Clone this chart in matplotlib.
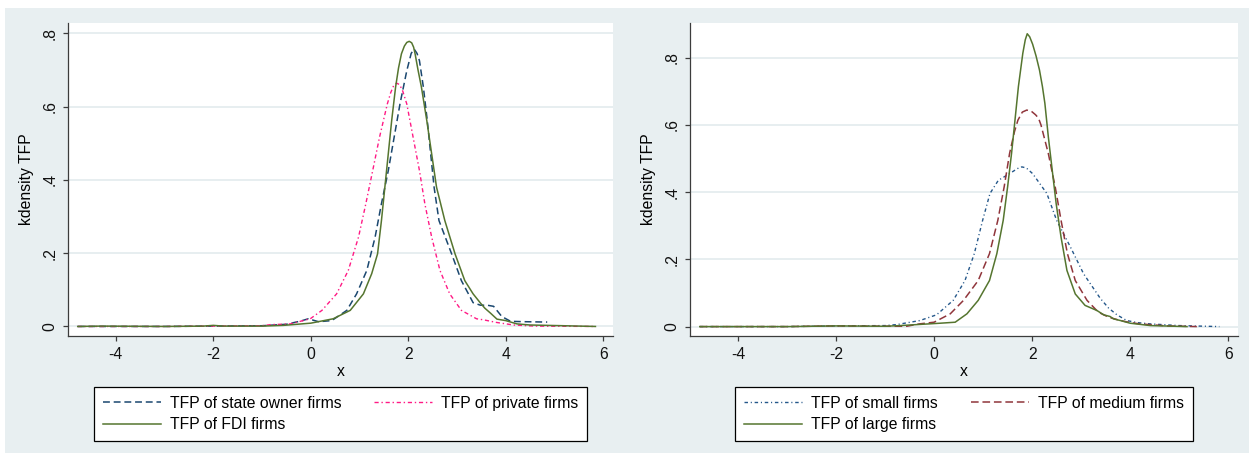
import numpy as np
import matplotlib.pyplot as plt
from matplotlib.patches import Rectangle

plt.rcParams['font.family'] = ['Liberation Sans', 'DejaVu Sans']

# ---- left panel: ownership ----
state_x = [-4.78, -3.0, -1.0, -0.5, -0.2, -0.05, 0.16, 0.43, 0.74, 0.94, 1.15, 1.32, 1.45,
           1.59, 1.71, 1.83, 1.97, 2.06, 2.12, 2.18, 2.23, 2.31, 2.39, 2.46, 2.53, 2.63,
           2.89, 3.09, 3.33, 3.48, 3.62, 3.75, 3.92, 4.1, 4.4, 4.85]
state_y = [0.0, 0.0, 0.002, 0.006, 0.015, 0.021, 0.013, 0.016, 0.044, 0.089, 0.153, 0.244, 0.335,
           0.425, 0.516, 0.607, 0.698, 0.745, 0.757, 0.745, 0.725, 0.653, 0.562, 0.471, 0.38, 0.289,
           0.198, 0.125, 0.065, 0.058, 0.058, 0.055, 0.027, 0.014, 0.013, 0.012]

private_x = [-4.78, -3.0, -2.0, -1.0, -0.83, -0.6, -0.42, -0.01, 0.23, 0.53, 0.77, 0.98, 1.13,
             1.27, 1.41, 1.57, 1.64, 1.70, 1.76, 1.82, 1.88, 1.97, 2.10, 2.23, 2.34, 2.48, 2.65,
             2.85, 3.09, 3.40, 3.55, 3.81, 4.16, 4.6, 5.84]
private_y = [0.0, 0.0, 0.001, 0.002, 0.005, 0.006, 0.007, 0.021, 0.044, 0.089, 0.153, 0.244, 0.335,
             0.425, 0.516, 0.607, 0.638, 0.657, 0.664, 0.660, 0.645, 0.607, 0.516, 0.425, 0.335, 0.244,
             0.153, 0.089, 0.044, 0.021, 0.018, 0.011, 0.004, 0.001, 0.0]

fdi_x = [-4.78, -4.3, -3.0, -2.2, -2.0, -1.8, -1.0, -0.56, 0.0, 0.46, 0.81, 1.08, 1.25, 1.37,
         1.45, 1.52, 1.59, 1.66, 1.74, 1.80, 1.86, 1.92, 1.97, 2.02, 2.07, 2.11, 2.14, 2.20,
         2.27, 2.38, 2.48, 2.58, 2.75, 2.96, 3.16, 3.33, 3.48, 3.57, 3.69, 3.82, 4.0, 4.23, 4.5,
         5.19, 5.84]
fdi_y = [0.0, 0.001, 0.0, 0.001, 0.003, 0.001, 0.001, 0.003, 0.009, 0.021, 0.044, 0.089, 0.144, 0.198,
         0.289, 0.38, 0.471, 0.562, 0.653, 0.705, 0.744, 0.765, 0.775, 0.778, 0.774, 0.762, 0.744,
         0.700, 0.653, 0.562, 0.471, 0.38, 0.289, 0.198, 0.125, 0.089, 0.064, 0.050, 0.036, 0.020,
         0.016, 0.007, 0.004, 0.002, 0.0]

# ---- right panel: size ----
small_x = [-4.78, -3.0, -2.0, -1.0, -0.76, -0.29, 0.05, 0.39, 0.63, 0.82, 0.99, 1.14, 1.31,
           1.54, 1.70, 1.79, 1.88, 2.01, 2.30, 2.50, 2.78, 3.05, 3.39, 3.56, 3.73, 3.93, 4.14,
           4.41, 5.0, 5.82]
small_y = [0.0, 0.0, 0.002, 0.003, 0.006, 0.018, 0.035, 0.078, 0.137, 0.217, 0.316, 0.396, 0.435,
           0.455, 0.470, 0.475, 0.472, 0.455, 0.396, 0.316, 0.237, 0.157, 0.084, 0.055, 0.035,
           0.018, 0.012, 0.008, 0.003, 0.0]

medium_x = [-4.78, -3.0, -2.0, -1.0, -0.56, -0.3, 0.0, 0.33, 0.60, 0.90, 1.13, 1.30, 1.43, 1.54,
            1.64, 1.71, 1.80, 1.89, 1.98, 2.07, 2.13, 2.18, 2.33, 2.47, 2.59, 2.72, 2.88, 3.12,
            3.35, 3.56, 3.80, 4.0, 4.2, 4.75, 5.36]
medium_y = [0.0, 0.0, 0.002, 0.001, 0.001, 0.008, 0.013, 0.038, 0.078, 0.137, 0.217, 0.316, 0.416,
            0.515, 0.580, 0.614, 0.638, 0.644, 0.641, 0.630, 0.620, 0.600, 0.515, 0.416, 0.316,
            0.217, 0.137, 0.078, 0.043, 0.028, 0.018, 0.012, 0.008, 0.002, 0.0]

large_x = [-4.78, -3.0, -2.0, -1.0, -0.69, 0.12, 0.43, 0.67, 0.90, 1.13, 1.28, 1.41, 1.50, 1.58,
           1.65, 1.72, 1.81, 1.86, 1.90, 1.95, 2.01, 2.08, 2.15, 2.21, 2.26, 2.33, 2.41, 2.49,
           2.59, 2.71, 2.88, 3.08, 3.32, 3.46, 3.59, 3.66, 3.8, 4.0, 4.41, 5.16]
large_y = [0.0, 0.0, 0.002, 0.001, 0.003, 0.010, 0.013, 0.038, 0.078, 0.137, 0.217, 0.316, 0.416,
           0.515, 0.614, 0.714, 0.813, 0.853, 0.871, 0.862, 0.840, 0.805, 0.763, 0.714, 0.664,
           0.565, 0.465, 0.366, 0.266, 0.167, 0.097, 0.063, 0.048, 0.035, 0.030, 0.023, 0.018,
           0.010, 0.003, 0.0]

yticks = [0, 0.2, 0.4, 0.6, 0.8]
ytick_labels = ['0', '.2', '.4', '.6', '.8']
xticks = [-4, -2, 0, 2, 4, 6]

bg = '#e8eff1'
axis_col = '#3c3c3c'
fs = 11.3

fig = plt.figure(figsize=(12.49, 4.53), dpi=100, facecolor='white')
fig.patches.append(Rectangle((5 / 1249, 0), 1 - 5 / 1249, 1 - 8 / 453,
                             transform=fig.transFigure, facecolor=bg, edgecolor='none',
                             zorder=-10))

ax1 = fig.add_axes([68 / 1249, 1 - 336 / 453, 545 / 1249, 313 / 453])
ax2 = fig.add_axes([690 / 1249, 1 - 336 / 453, 548 / 1249, 313 / 453])

l1, = ax1.plot(state_x, state_y, color='#1a476f', lw=1.1, ls=(0, (4.5, 2.5)))
l2, = ax1.plot(private_x, private_y, color='#ff1a85', lw=1.0, ls=(0, (3, 2, 1, 2)))
l3, = ax1.plot(fdi_x, fdi_y, color='#55752f', lw=1.1)

r1, = ax2.plot(small_x, small_y, color='#24578a', lw=1.0, ls=(0, (2.5, 2, 0.8, 2)))
r2, = ax2.plot(medium_x, medium_y, color='#90353b', lw=1.1, ls=(0, (5, 2.5)))
r3, = ax2.plot(large_x, large_y, color='#55752f', lw=1.1)

ax1.set_ylim(-0.026, 0.828)
ax2.set_ylim(-0.028, 0.903)

for ax in (ax1, ax2):
    ax.set_xlim(-4.98, 6.2)
    ax.set_xticks(xticks)
    ax.set_xticklabels([str(v) for v in xticks])
    ax.set_yticks(yticks)
    ax.set_yticklabels(ytick_labels, rotation=90, va='center')
    ax.grid(axis='y', color='#e3ebee', lw=1.2)
    ax.set_axisbelow(True)
    for s in ('top', 'right'):
        ax.spines[s].set_visible(False)
    for s in ('left', 'bottom'):
        ax.spines[s].set_color(axis_col)
        ax.spines[s].set_linewidth(0.9)
    ax.tick_params(direction='out', length=3.6, width=0.9, color=axis_col,
                   labelsize=fs, labelcolor='#111111', pad=4)
    ax.set_xlabel('x', fontsize=fs, labelpad=2)
    ax.set_ylabel('kdensity TFP', fontsize=fs, labelpad=6)

leg_h = 52 / 453
ax1.legend([l1, l3, l2], ['TFP of state owner firms', 'TFP of FDI firms', 'TFP of private firms'],
           ncol=2, loc='upper left', mode='expand', borderaxespad=0,
           bbox_to_anchor=(94 / 1249, 1 - 387 / 453 - leg_h, 493 / 1249, leg_h),
           bbox_transform=fig.transFigure, fontsize=fs, fancybox=False, framealpha=1,
           edgecolor='black', handlelength=3.7, handletextpad=0.6, borderpad=0.55,
           labelspacing=0.42)
ax1.get_legend().get_frame().set_linewidth(0.9)

ax2.legend([r1, r3, r2], ['TFP of small firms', 'TFP of large firms', 'TFP of medium firms'],
           ncol=2, loc='upper left', mode='expand', borderaxespad=0,
           bbox_to_anchor=(735 / 1249, 1 - 387 / 453 - leg_h, 458 / 1249, leg_h),
           bbox_transform=fig.transFigure, fontsize=fs, fancybox=False, framealpha=1,
           edgecolor='black', handlelength=3.7, handletextpad=0.6, borderpad=0.55,
           labelspacing=0.42)
ax2.get_legend().get_frame().set_linewidth(0.9)

fig.savefig('out.png', dpi=100, facecolor='white')
